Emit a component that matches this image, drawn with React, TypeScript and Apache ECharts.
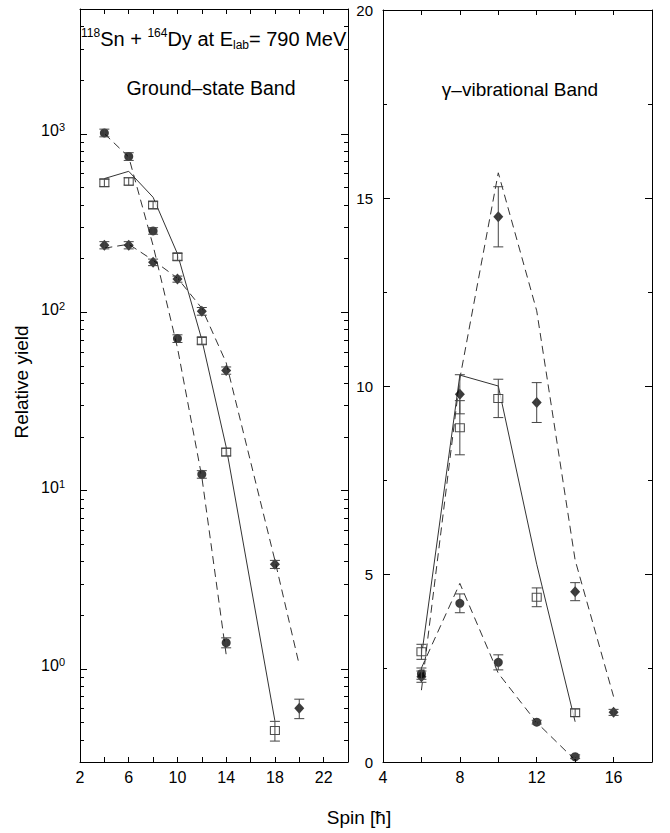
import React, { useEffect, useRef } from 'react';
import * as echarts from 'echarts';

const F = "'Liberation Sans', Arial, Helvetica, sans-serif";

// ---------- Ground-state band (left panel, log scale) ----------
const gsbCircleSpin = [4, 6, 8, 10, 12, 14];
const gsbCircleYield = [1010, 745, 285, 71, 12.3, 1.4];
const gsbCircleErr = [50, 37, 12, 3.5, 0.6, 0.09];

const gsbSquareSpin = [4, 6, 8, 10, 12, 14, 18];
const gsbSquareYield = [530, 540, 398, 204, 69, 16.4, 0.45];
const gsbSquareErr = [25, 25, 18, 9, 3, 0.8, 0.057];

const gsbDiamondSpin = [4, 6, 8, 10, 12, 14, 18, 20];
const gsbDiamondYield = [237, 237, 190, 153, 101, 47, 3.85, 0.6];
const gsbDiamondErr = [11, 11, 8, 6, 5, 2.2, 0.2, 0.075];

const gsbCircleTheorySpin = [4, 6, 8, 10, 12, 14];
const gsbCircleTheory = [1000, 740, 236, 63, 11.9, 1.2];
const gsbSquareTheorySpin = [4, 6, 8, 10, 12, 14, 18];
const gsbSquareTheory = [560, 615, 440, 212, 70, 17.5, 0.51];
const gsbDiamondTheorySpin = [4, 6, 8, 10, 12, 14, 18, 20];
const gsbDiamondTheory = [228, 240, 195, 155, 105, 52, 4.05, 1.05];

// ---------- gamma-vibrational band (right panel, linear) ----------
const gvbDiamondSpin = [6, 8, 10, 12, 14, 16];
const gvbDiamondYield = [2.27, 9.78, 14.5, 9.56, 4.53, 1.32];
const gvbDiamondErr = [0.15, 0.52, 0.8, 0.53, 0.24, 0.08];

const gvbSquareSpin = [6, 8, 10, 12, 14];
const gvbSquareYield = [2.93, 8.89, 9.67, 4.38, 1.31];
const gvbSquareErr = [0.2, 0.72, 0.51, 0.25, 0.1];

const gvbCircleSpin = [6, 8, 10, 12, 14];
const gvbCircleYield = [2.35, 4.22, 2.65, 1.06, 0.14];
const gvbCircleErr = [0.15, 0.25, 0.2, 0.05, 0.05];

const gvbDiamondTheorySpin = [6, 8, 10, 12, 14, 16];
const gvbDiamondTheory = [1.91, 10.2, 15.67, 12.0, 5.37, 1.74];
const gvbSquareTheorySpin = [6, 8, 10, 12, 14];
const gvbSquareTheory = [2.8, 10.29, 10.0, 5.26, 1.07];
const gvbCircleTheorySpin = [6, 8, 10, 12, 14];
const gvbCircleTheory = [2.5, 4.75, 2.36, 1.05, 0.05];

// tick values of the log axis
const logMajorTicks = [1, 10, 100, 1000];
const logMinorTicks = [
  0.4, 0.5, 0.6, 0.7, 0.8, 0.9,
  2, 3, 4, 5, 6, 7, 8, 9,
  20, 30, 40, 50, 60, 70, 80, 90,
  200, 300, 400, 500, 600, 700, 800, 900,
  2000, 3000, 4000, 5000,
];
const LOG_MIN = 0.3;
const LOG_MAX = 5000;

const zip = (xs: number[], ys: number[]) => xs.map((x, i) => [x, ys[i]]);

const theoryLine = (xi: number, yi: number, xs: number[], ys: number[], dashed: boolean) => ({
  type: 'line',
  xAxisIndex: xi,
  yAxisIndex: yi,
  data: zip(xs, ys),
  symbol: 'none',
  showSymbol: false,
  silent: true,
  z: 2,
  lineStyle: { color: '#333', width: 1, type: dashed ? [8, 5] : 'solid' },
});

const points = (xi: number, yi: number, xs: number[], ys: number[], kind: string) => ({
  type: 'scatter',
  xAxisIndex: xi,
  yAxisIndex: yi,
  data: zip(xs, ys),
  symbol: kind === 'square' ? 'rect' : kind,
  symbolSize: kind === 'square' ? [9, 8] : kind === 'diamond' ? [10, 11] : 9,
  silent: true,
  z: 4,
  itemStyle:
    kind === 'square'
      ? { color: '#fff', borderColor: '#222', borderWidth: 1 }
      : { color: '#0a0a0a' },
});

const errorBars = (xi: number, yi: number, xs: number[], ys: number[], es: number[]) => ({
  type: 'custom',
  xAxisIndex: xi,
  yAxisIndex: yi,
  silent: true,
  z: 5,
  data: xs.map((x, i) => [x, ys[i] - es[i], ys[i] + es[i]]),
  encode: { x: 0, y: [1, 2] },
  renderItem: (params: any, api: any) => {
    const x = api.value(0);
    const p1 = api.coord([x, api.value(1)]);
    const p2 = api.coord([x, api.value(2)]);
    const hw = 5;
    const st = { stroke: '#444', lineWidth: 1 };
    return {
      type: 'group',
      children: [
        { type: 'line', shape: { x1: p1[0], y1: p1[1], x2: p2[0], y2: p2[1] }, style: st },
        { type: 'line', shape: { x1: p1[0] - hw, y1: p1[1], x2: p1[0] + hw, y2: p1[1] }, style: st },
        { type: 'line', shape: { x1: p2[0] - hw, y1: p2[1], x2: p2[0] + hw, y2: p2[1] }, style: st },
      ],
    };
  },
});

// tick marks of the log axis, placed on both frame edges via the log scale
const logTicks = (values: number[], len: number) => ({
  type: 'custom',
  xAxisIndex: 0,
  yAxisIndex: 0,
  silent: true,
  clip: false,
  z: 6,
  data: values.map((v) => [2, v]),
  encode: { x: 0, y: 1 },
  renderItem: (params: any, api: any) => {
    const cs = params.coordSys;
    const y = Math.round(api.coord([api.value(0), api.value(1)])[1]) + 0.5;
    const st = { stroke: '#000', lineWidth: 1 };
    return {
      type: 'group',
      children: [
        { type: 'line', shape: { x1: cs.x, y1: y, x2: cs.x + len, y2: y }, style: st },
        { type: 'line', shape: { x1: cs.x + cs.width - len, y1: y, x2: cs.x + cs.width, y2: y }, style: st },
      ],
    };
  },
});

const xAxisDef = (grid: number, min: number, max: number, position: string, showLabel: boolean) => ({
  type: 'value',
  gridIndex: grid,
  position,
  min,
  max,
  interval: 2,
  axisLine: { show: true, onZero: false, lineStyle: { color: '#000', width: 1 } },
  axisTick: { show: true, inside: true, length: 5, lineStyle: { color: '#000', width: 1 } },
  axisLabel: {
    show: showLabel,
    margin: 7,
    fontSize: 16,
    fontFamily: F,
    color: '#000',
    formatter: (v: number) => ((v - min) % 4 === 0 ? String(v) : ''),
  },
  splitLine: { show: false },
});

const linAxis = (position: string, interval: number, len: number, showLine: boolean, showLabel: boolean) => ({
  type: 'value',
  gridIndex: 1,
  position,
  min: 0,
  max: 20,
  interval,
  axisLine: { show: showLine, onZero: false, lineStyle: { color: '#000', width: 1 } },
  axisTick: { show: true, inside: true, length: len, lineStyle: { color: '#000', width: 1 } },
  axisLabel: { show: showLabel, margin: 10, fontSize: 15, fontFamily: F, color: '#000' },
  splitLine: { show: false },
});

export default function App() {
  const ref = useRef<HTMLDivElement>(null);

  useEffect(() => {
    if (!ref.current) return;
    const chart = echarts.init(ref.current, undefined, { renderer: 'svg' });

    const option: any = {
      animation: false,
      backgroundColor: '#fff',
      grid: [
        { left: 80, top: 9, width: 268, height: 753 },
        { left: 383, top: 10, width: 269, height: 752 },
      ],
      xAxis: [
        xAxisDef(0, 2, 24, 'bottom', true),
        xAxisDef(0, 2, 24, 'top', false),
        xAxisDef(1, 4, 18, 'bottom', true),
        xAxisDef(1, 4, 18, 'top', false),
      ],
      yAxis: [
        {
          type: 'log',
          logBase: 10,
          gridIndex: 0,
          position: 'left',
          min: LOG_MIN,
          max: LOG_MAX,
          axisLine: { show: true, onZero: false, lineStyle: { color: '#000', width: 1 } },
          axisTick: { show: false },
          splitLine: { show: false },
          axisLabel: {
            margin: 15,
            color: '#000',
            fontFamily: F,
            fontSize: 16,
            padding: [0, 0, 6, 0],
            formatter: (v: number) => {
              const e = Math.log10(v);
              if (Math.abs(e - Math.round(e)) > 1e-6) return '';
              return `{b|10}{s|${Math.round(e)}}`;
            },
            rich: {
              b: { fontSize: 16, lineHeight: 18, fontFamily: F, color: '#000' },
              s: { fontSize: 11, lineHeight: 6, verticalAlign: 'top', fontFamily: F, color: '#000' },
            },
          },
        },
        {
          type: 'log',
          logBase: 10,
          gridIndex: 0,
          position: 'right',
          min: LOG_MIN,
          max: LOG_MAX,
          axisLine: { show: true, onZero: false, lineStyle: { color: '#000', width: 1 } },
          axisTick: { show: false },
          axisLabel: { show: false },
          splitLine: { show: false },
        },
        linAxis('left', 5, 7, true, true),
        linAxis('left', 2.5, 4, false, false),
        linAxis('right', 5, 7, true, false),
        linAxis('right', 2.5, 4, false, false),
      ],
      series: [
        logTicks(logMajorTicks, 7),
        logTicks(logMinorTicks, 4),
        theoryLine(0, 0, gsbCircleTheorySpin, gsbCircleTheory, true),
        theoryLine(0, 0, gsbSquareTheorySpin, gsbSquareTheory, false),
        theoryLine(0, 0, gsbDiamondTheorySpin, gsbDiamondTheory, true),
        points(0, 0, gsbCircleSpin, gsbCircleYield, 'circle'),
        points(0, 0, gsbSquareSpin, gsbSquareYield, 'square'),
        points(0, 0, gsbDiamondSpin, gsbDiamondYield, 'diamond'),
        errorBars(0, 0, gsbCircleSpin, gsbCircleYield, gsbCircleErr),
        errorBars(0, 0, gsbSquareSpin, gsbSquareYield, gsbSquareErr),
        errorBars(0, 0, gsbDiamondSpin, gsbDiamondYield, gsbDiamondErr),

        theoryLine(2, 2, gvbDiamondTheorySpin, gvbDiamondTheory, true),
        theoryLine(2, 2, gvbSquareTheorySpin, gvbSquareTheory, false),
        theoryLine(2, 2, gvbCircleTheorySpin, gvbCircleTheory, true),
        points(2, 2, gvbDiamondSpin, gvbDiamondYield, 'diamond'),
        points(2, 2, gvbSquareSpin, gvbSquareYield, 'square'),
        points(2, 2, gvbCircleSpin, gvbCircleYield, 'circle'),
        errorBars(2, 2, gvbDiamondSpin, gvbDiamondYield, gvbDiamondErr),
        errorBars(2, 2, gvbSquareSpin, gvbSquareYield, gvbSquareErr),
        errorBars(2, 2, gvbCircleSpin, gvbCircleYield, gvbCircleErr),
      ],
      graphic: [
        {
          type: 'text',
          x: 81,
          y: 38.5,
          style: {
            text: '{sup|118}{m|Sn + }{sup|164}{m|Dy at E}{sub|lab}{m|= 790 MeV}',
            fill: '#000',
            align: 'left',
            verticalAlign: 'middle',
            fontFamily: F,
            fontSize: 20,
            rich: {
              m: { fontSize: 20, lineHeight: 24, fontFamily: F },
              sup: { fontSize: 12, lineHeight: 8, verticalAlign: 'top', fontFamily: F },
              sub: { fontSize: 12, lineHeight: 16, verticalAlign: 'bottom', fontFamily: F },
            },
          },
        },
        {
          type: 'text',
          x: 211,
          y: 88,
          style: {
            text: 'Ground\u2013state Band',
            fill: '#000',
            align: 'center',
            verticalAlign: 'middle',
            font: `19.5px ${F}`,
          },
        },
        {
          type: 'text',
          x: 520,
          y: 89,
          style: {
            text: '\u03b3\u2013vibrational Band',
            fill: '#000',
            align: 'center',
            verticalAlign: 'middle',
            font: `19px ${F}`,
          },
        },
        {
          type: 'text',
          x: 21,
          y: 382,
          rotation: Math.PI / 2,
          style: {
            text: 'Relative yield',
            fill: '#000',
            align: 'center',
            verticalAlign: 'middle',
            font: `19px ${F}`,
          },
        },
        {
          type: 'text',
          x: 359,
          y: 817,
          style: {
            text: 'Spin [\u0127]',
            fill: '#000',
            align: 'center',
            verticalAlign: 'middle',
            font: `19px ${F}`,
          },
        },
      ],
    };

    chart.setOption(option);
    return () => chart.dispose();
  }, []);

  return (
    <div
      ref={ref}
      style={{ position: 'absolute', left: 0, top: 0, width: 670, height: 833, background: '#fff' }}
    />
  );
}
